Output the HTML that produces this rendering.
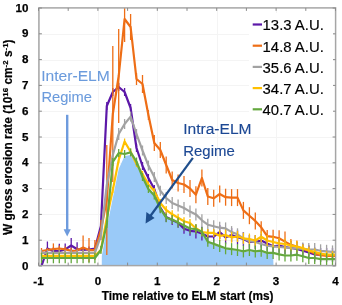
<!DOCTYPE html>
<html><head><meta charset="utf-8"><style>
html,body{margin:0;padding:0;background:#fff;}
svg{display:block;will-change:transform;filter:blur(0.3px);}
text{font-family:"Liberation Sans",sans-serif;}
.tl{font-size:11.6px;font-weight:bold;fill:#000;stroke:#000;stroke-width:0.25px;}
.at{font-size:12px;font-weight:bold;fill:#000;stroke:#000;stroke-width:0.2px;}
.lg{font-size:14.4px;fill:#000;stroke:#000;stroke-width:0.15px;}
.an1{font-size:15.5px;fill:#6B9BDC;stroke:#6B9BDC;stroke-width:0.1px;}
.an2{font-size:15.5px;fill:#1C4894;stroke:#1C4894;stroke-width:0.15px;}
</style></head><body>
<svg width="342" height="305" viewBox="0 0 342 305">
<defs><clipPath id="pc"><rect x="38.9" y="7.9" width="296.70000000000005" height="257.70000000000005"/></clipPath></defs>
<line x1="39.5" y1="7.9" x2="39.5" y2="265.6" stroke="#f4f4f4" stroke-width="1"/>
<line x1="98.5" y1="7.9" x2="98.5" y2="265.6" stroke="#f4f4f4" stroke-width="1"/>
<line x1="157.5" y1="7.9" x2="157.5" y2="265.6" stroke="#f4f4f4" stroke-width="1"/>
<line x1="217.5" y1="7.9" x2="217.5" y2="265.6" stroke="#f4f4f4" stroke-width="1"/>
<line x1="276.5" y1="7.9" x2="276.5" y2="265.6" stroke="#f4f4f4" stroke-width="1"/>
<line x1="38.9" y1="240.5" x2="335.6" y2="240.5" stroke="#f4f4f4" stroke-width="1"/>
<line x1="38.9" y1="214.5" x2="335.6" y2="214.5" stroke="#f4f4f4" stroke-width="1"/>
<line x1="38.9" y1="189.5" x2="335.6" y2="189.5" stroke="#f4f4f4" stroke-width="1"/>
<line x1="38.9" y1="163.5" x2="335.6" y2="163.5" stroke="#f4f4f4" stroke-width="1"/>
<line x1="38.9" y1="137.5" x2="335.6" y2="137.5" stroke="#f4f4f4" stroke-width="1"/>
<line x1="38.9" y1="111.5" x2="335.6" y2="111.5" stroke="#f4f4f4" stroke-width="1"/>
<line x1="38.9" y1="85.5" x2="335.6" y2="85.5" stroke="#f4f4f4" stroke-width="1"/>
<line x1="38.9" y1="60.5" x2="335.6" y2="60.5" stroke="#f4f4f4" stroke-width="1"/>
<line x1="38.9" y1="34.5" x2="335.6" y2="34.5" stroke="#f4f4f4" stroke-width="1"/>
<path d="M101.8,265.6 L101.8,256.0 L106.8,228.0 L112.8,198.0 L118.7,169.0 L124.6,156.0 L130.6,155.0 L136.5,164.0 L142.5,179.0 L148.4,190.0 L154.3,196.6 L160.3,209.7 L166.2,218.7 L172.2,220.6 L178.1,223.5 L184.0,226.5 L190.0,229.5 L195.9,230.2 L201.9,232.8 L207.8,242.7 L213.7,244.9 L219.7,247.1 L225.6,249.3 L231.6,250.1 L237.5,251.0 L243.4,252.4 L249.4,251.0 L255.3,252.4 L261.2,251.7 L267.2,253.9 L273.1,253.9 L273.5,265.6 Z" fill="#9ACAF8"/>
<line x1="41.5" y1="263.0" x2="41.5" y2="265.6" stroke="#5C18A8" stroke-width="1.3"/>
<line x1="47.4" y1="241.5" x2="47.4" y2="255.5" stroke="#5C18A8" stroke-width="1.3"/>
<line x1="53.4" y1="247.2" x2="53.4" y2="255.2" stroke="#5C18A8" stroke-width="1.3"/>
<line x1="59.3" y1="243.7" x2="59.3" y2="258.7" stroke="#5C18A8" stroke-width="1.3"/>
<line x1="65.2" y1="243.4" x2="65.2" y2="255.4" stroke="#5C18A8" stroke-width="1.3"/>
<line x1="71.2" y1="238.0" x2="71.2" y2="253.0" stroke="#5C18A8" stroke-width="1.3"/>
<line x1="77.1" y1="242.2" x2="77.1" y2="256.2" stroke="#5C18A8" stroke-width="1.3"/>
<line x1="83.1" y1="247.0" x2="83.1" y2="253.0" stroke="#5C18A8" stroke-width="1.3"/>
<line x1="89.0" y1="246.5" x2="89.0" y2="252.5" stroke="#5C18A8" stroke-width="1.3"/>
<line x1="94.9" y1="245.5" x2="94.9" y2="251.5" stroke="#5C18A8" stroke-width="1.3"/>
<line x1="100.9" y1="222.0" x2="100.9" y2="230.0" stroke="#5C18A8" stroke-width="1.3"/>
<line x1="106.8" y1="102.0" x2="106.8" y2="110.0" stroke="#5C18A8" stroke-width="1.3"/>
<line x1="112.8" y1="88.0" x2="112.8" y2="96.0" stroke="#5C18A8" stroke-width="1.3"/>
<line x1="118.7" y1="83.0" x2="118.7" y2="91.0" stroke="#5C18A8" stroke-width="1.3"/>
<line x1="124.6" y1="88.0" x2="124.6" y2="96.0" stroke="#5C18A8" stroke-width="1.3"/>
<line x1="130.6" y1="104.0" x2="130.6" y2="112.0" stroke="#5C18A8" stroke-width="1.3"/>
<line x1="136.5" y1="144.0" x2="136.5" y2="152.0" stroke="#5C18A8" stroke-width="1.3"/>
<line x1="142.5" y1="162.0" x2="142.5" y2="170.0" stroke="#5C18A8" stroke-width="1.3"/>
<line x1="148.4" y1="174.0" x2="148.4" y2="182.0" stroke="#5C18A8" stroke-width="1.3"/>
<line x1="154.3" y1="185.0" x2="154.3" y2="193.0" stroke="#5C18A8" stroke-width="1.3"/>
<line x1="160.3" y1="202.5" x2="160.3" y2="212.5" stroke="#5C18A8" stroke-width="1.3"/>
<line x1="166.2" y1="212.0" x2="166.2" y2="222.0" stroke="#5C18A8" stroke-width="1.3"/>
<line x1="172.2" y1="215.0" x2="172.2" y2="225.0" stroke="#5C18A8" stroke-width="1.3"/>
<line x1="178.1" y1="217.8" x2="178.1" y2="227.8" stroke="#5C18A8" stroke-width="1.3"/>
<line x1="184.0" y1="223.8" x2="184.0" y2="233.8" stroke="#5C18A8" stroke-width="1.3"/>
<line x1="190.0" y1="225.8" x2="190.0" y2="235.8" stroke="#5C18A8" stroke-width="1.3"/>
<line x1="195.9" y1="224.5" x2="195.9" y2="238.5" stroke="#5C18A8" stroke-width="1.3"/>
<line x1="201.9" y1="226.5" x2="201.9" y2="240.5" stroke="#5C18A8" stroke-width="1.3"/>
<line x1="207.8" y1="229.5" x2="207.8" y2="243.5" stroke="#5C18A8" stroke-width="1.3"/>
<line x1="213.7" y1="229.5" x2="213.7" y2="243.5" stroke="#5C18A8" stroke-width="1.3"/>
<line x1="219.7" y1="225.1" x2="219.7" y2="239.1" stroke="#5C18A8" stroke-width="1.3"/>
<line x1="225.6" y1="230.3" x2="225.6" y2="244.3" stroke="#5C18A8" stroke-width="1.3"/>
<line x1="231.6" y1="228.1" x2="231.6" y2="242.1" stroke="#5C18A8" stroke-width="1.3"/>
<line x1="237.5" y1="230.3" x2="237.5" y2="244.3" stroke="#5C18A8" stroke-width="1.3"/>
<line x1="243.4" y1="232.0" x2="243.4" y2="246.0" stroke="#5C18A8" stroke-width="1.3"/>
<line x1="249.4" y1="235.0" x2="249.4" y2="249.0" stroke="#5C18A8" stroke-width="1.3"/>
<line x1="255.3" y1="235.0" x2="255.3" y2="249.0" stroke="#5C18A8" stroke-width="1.3"/>
<line x1="261.2" y1="233.5" x2="261.2" y2="247.5" stroke="#5C18A8" stroke-width="1.3"/>
<line x1="267.2" y1="236.4" x2="267.2" y2="250.4" stroke="#5C18A8" stroke-width="1.3"/>
<line x1="273.1" y1="239.3" x2="273.1" y2="253.3" stroke="#5C18A8" stroke-width="1.3"/>
<line x1="279.1" y1="238.6" x2="279.1" y2="252.6" stroke="#5C18A8" stroke-width="1.3"/>
<line x1="285.0" y1="240.0" x2="285.0" y2="254.0" stroke="#5C18A8" stroke-width="1.3"/>
<line x1="290.9" y1="241.0" x2="290.9" y2="255.0" stroke="#5C18A8" stroke-width="1.3"/>
<line x1="296.9" y1="242.0" x2="296.9" y2="256.0" stroke="#5C18A8" stroke-width="1.3"/>
<line x1="302.8" y1="243.6" x2="302.8" y2="257.6" stroke="#5C18A8" stroke-width="1.3"/>
<line x1="308.8" y1="245.5" x2="308.8" y2="259.5" stroke="#5C18A8" stroke-width="1.3"/>
<line x1="314.7" y1="247.5" x2="314.7" y2="261.5" stroke="#5C18A8" stroke-width="1.3"/>
<line x1="320.6" y1="248.0" x2="320.6" y2="262.0" stroke="#5C18A8" stroke-width="1.3"/>
<line x1="326.6" y1="248.0" x2="326.6" y2="262.0" stroke="#5C18A8" stroke-width="1.3"/>
<line x1="332.5" y1="248.0" x2="332.5" y2="262.0" stroke="#5C18A8" stroke-width="1.3"/>
<polyline clip-path="url(#pc)" points="41.5,266.0 47.4,248.5 53.4,251.2 59.3,251.2 65.2,249.4 71.2,245.5 77.1,249.2 83.1,250.0 89.0,249.5 94.9,248.5 100.9,226.0 106.8,106.0 112.8,92.0 118.7,87.0 124.6,92.0 130.6,108.0 136.5,148.0 142.5,166.0 148.4,178.0 154.3,189.0 160.3,207.5 166.2,217.0 172.2,220.0 178.1,222.8 184.0,228.8 190.0,230.8 195.9,231.5 201.9,233.5 207.8,236.5 213.7,236.5 219.7,232.1 225.6,237.3 231.6,235.1 237.5,237.3 243.4,239.0 249.4,242.0 255.3,242.0 261.2,240.5 267.2,243.4 273.1,246.3 279.1,245.6 285.0,247.0 290.9,248.0 296.9,249.0 302.8,250.6 308.8,252.5 314.7,254.5 320.6,255.0 326.6,255.0 332.5,255.0 338.5,255.0" fill="none" stroke="#5C18A8" stroke-width="2.2" stroke-linejoin="round"/>
<line x1="41.5" y1="248.0" x2="41.5" y2="254.0" stroke="#EE6E16" stroke-width="1.3"/>
<line x1="47.4" y1="248.0" x2="47.4" y2="252.0" stroke="#EE6E16" stroke-width="1.3"/>
<line x1="53.4" y1="243.4" x2="53.4" y2="254.8" stroke="#EE6E16" stroke-width="1.3"/>
<line x1="59.3" y1="245.5" x2="59.3" y2="251.5" stroke="#EE6E16" stroke-width="1.3"/>
<line x1="65.2" y1="246.4" x2="65.2" y2="252.4" stroke="#EE6E16" stroke-width="1.3"/>
<line x1="71.2" y1="247.8" x2="71.2" y2="253.8" stroke="#EE6E16" stroke-width="1.3"/>
<line x1="77.1" y1="247.5" x2="77.1" y2="253.5" stroke="#EE6E16" stroke-width="1.3"/>
<line x1="83.1" y1="235.6" x2="83.1" y2="259.6" stroke="#EE6E16" stroke-width="1.3"/>
<line x1="89.0" y1="238.1" x2="89.0" y2="262.1" stroke="#EE6E16" stroke-width="1.3"/>
<line x1="94.9" y1="240.1" x2="94.9" y2="260.1" stroke="#EE6E16" stroke-width="1.3"/>
<line x1="100.9" y1="220.0" x2="100.9" y2="240.0" stroke="#EE6E16" stroke-width="1.3"/>
<line x1="106.8" y1="145.0" x2="106.8" y2="255.0" stroke="#EE6E16" stroke-width="1.3"/>
<line x1="112.8" y1="46.0" x2="112.8" y2="182.0" stroke="#EE6E16" stroke-width="1.3"/>
<line x1="118.7" y1="29.0" x2="118.7" y2="123.0" stroke="#EE6E16" stroke-width="1.3"/>
<line x1="124.6" y1="7.9" x2="124.6" y2="42.0" stroke="#EE6E16" stroke-width="1.3"/>
<line x1="130.6" y1="14.0" x2="130.6" y2="40.0" stroke="#EE6E16" stroke-width="1.3"/>
<line x1="136.5" y1="73.0" x2="136.5" y2="85.0" stroke="#EE6E16" stroke-width="1.3"/>
<line x1="142.5" y1="75.0" x2="142.5" y2="93.0" stroke="#EE6E16" stroke-width="1.3"/>
<line x1="148.4" y1="110.0" x2="148.4" y2="120.0" stroke="#EE6E16" stroke-width="1.3"/>
<line x1="154.3" y1="135.0" x2="154.3" y2="151.0" stroke="#EE6E16" stroke-width="1.3"/>
<line x1="160.3" y1="142.0" x2="160.3" y2="158.0" stroke="#EE6E16" stroke-width="1.3"/>
<line x1="166.2" y1="156.5" x2="166.2" y2="173.5" stroke="#EE6E16" stroke-width="1.3"/>
<line x1="172.2" y1="171.5" x2="172.2" y2="188.5" stroke="#EE6E16" stroke-width="1.3"/>
<line x1="178.1" y1="174.5" x2="178.1" y2="191.5" stroke="#EE6E16" stroke-width="1.3"/>
<line x1="184.0" y1="176.0" x2="184.0" y2="193.0" stroke="#EE6E16" stroke-width="1.3"/>
<line x1="190.0" y1="180.0" x2="190.0" y2="197.0" stroke="#EE6E16" stroke-width="1.3"/>
<line x1="195.9" y1="186.2" x2="195.9" y2="203.2" stroke="#EE6E16" stroke-width="1.3"/>
<line x1="201.9" y1="169.5" x2="201.9" y2="186.5" stroke="#EE6E16" stroke-width="1.3"/>
<line x1="207.8" y1="188.0" x2="207.8" y2="205.0" stroke="#EE6E16" stroke-width="1.3"/>
<line x1="213.7" y1="189.8" x2="213.7" y2="206.8" stroke="#EE6E16" stroke-width="1.3"/>
<line x1="219.7" y1="185.5" x2="219.7" y2="202.5" stroke="#EE6E16" stroke-width="1.3"/>
<line x1="225.6" y1="188.7" x2="225.6" y2="205.7" stroke="#EE6E16" stroke-width="1.3"/>
<line x1="231.6" y1="189.1" x2="231.6" y2="206.1" stroke="#EE6E16" stroke-width="1.3"/>
<line x1="237.5" y1="189.1" x2="237.5" y2="206.1" stroke="#EE6E16" stroke-width="1.3"/>
<line x1="243.4" y1="201.9" x2="243.4" y2="218.9" stroke="#EE6E16" stroke-width="1.3"/>
<line x1="249.4" y1="207.2" x2="249.4" y2="224.2" stroke="#EE6E16" stroke-width="1.3"/>
<line x1="255.3" y1="212.4" x2="255.3" y2="229.4" stroke="#EE6E16" stroke-width="1.3"/>
<line x1="261.2" y1="221.3" x2="261.2" y2="233.3" stroke="#EE6E16" stroke-width="1.3"/>
<line x1="267.2" y1="230.1" x2="267.2" y2="242.1" stroke="#EE6E16" stroke-width="1.3"/>
<line x1="273.1" y1="229.8" x2="273.1" y2="243.8" stroke="#EE6E16" stroke-width="1.3"/>
<line x1="279.1" y1="230.3" x2="279.1" y2="246.3" stroke="#EE6E16" stroke-width="1.3"/>
<line x1="285.0" y1="231.6" x2="285.0" y2="251.6" stroke="#EE6E16" stroke-width="1.3"/>
<line x1="290.9" y1="238.9" x2="290.9" y2="250.9" stroke="#EE6E16" stroke-width="1.3"/>
<line x1="296.9" y1="240.5" x2="296.9" y2="252.5" stroke="#EE6E16" stroke-width="1.3"/>
<line x1="302.8" y1="244.0" x2="302.8" y2="254.0" stroke="#EE6E16" stroke-width="1.3"/>
<line x1="308.8" y1="245.6" x2="308.8" y2="255.6" stroke="#EE6E16" stroke-width="1.3"/>
<line x1="314.7" y1="249.6" x2="314.7" y2="257.6" stroke="#EE6E16" stroke-width="1.3"/>
<line x1="320.6" y1="251.2" x2="320.6" y2="259.2" stroke="#EE6E16" stroke-width="1.3"/>
<line x1="326.6" y1="251.8" x2="326.6" y2="259.8" stroke="#EE6E16" stroke-width="1.3"/>
<line x1="332.5" y1="251.8" x2="332.5" y2="259.8" stroke="#EE6E16" stroke-width="1.3"/>
<polyline clip-path="url(#pc)" points="41.5,251.0 47.4,250.0 53.4,249.1 59.3,248.5 65.2,249.4 71.2,250.8 77.1,250.5 83.1,247.6 89.0,250.1 94.9,250.1 100.9,230.0 106.8,200.0 112.8,114.0 118.7,76.0 124.6,19.0 130.6,27.0 136.5,79.0 142.5,84.0 148.4,115.0 154.3,143.0 160.3,150.0 166.2,165.0 172.2,180.0 178.1,183.0 184.0,184.5 190.0,188.5 195.9,194.7 201.9,178.0 207.8,196.5 213.7,198.3 219.7,194.0 225.6,197.2 231.6,197.6 237.5,197.6 243.4,210.4 249.4,215.7 255.3,220.9 261.2,227.3 267.2,236.1 273.1,236.8 279.1,238.3 285.0,241.6 290.9,244.9 296.9,246.5 302.8,249.0 308.8,250.6 314.7,253.6 320.6,255.2 326.6,255.8 332.5,255.8 338.5,255.8" fill="none" stroke="#EE6E16" stroke-width="2.2" stroke-linejoin="round"/>
<line x1="41.5" y1="249.8" x2="41.5" y2="255.8" stroke="#A2A2A2" stroke-width="1.3"/>
<line x1="47.4" y1="249.8" x2="47.4" y2="255.8" stroke="#A2A2A2" stroke-width="1.3"/>
<line x1="53.4" y1="249.8" x2="53.4" y2="255.8" stroke="#A2A2A2" stroke-width="1.3"/>
<line x1="59.3" y1="249.8" x2="59.3" y2="255.8" stroke="#A2A2A2" stroke-width="1.3"/>
<line x1="65.2" y1="249.8" x2="65.2" y2="255.8" stroke="#A2A2A2" stroke-width="1.3"/>
<line x1="71.2" y1="249.8" x2="71.2" y2="255.8" stroke="#A2A2A2" stroke-width="1.3"/>
<line x1="77.1" y1="249.8" x2="77.1" y2="255.8" stroke="#A2A2A2" stroke-width="1.3"/>
<line x1="83.1" y1="249.8" x2="83.1" y2="255.8" stroke="#A2A2A2" stroke-width="1.3"/>
<line x1="89.0" y1="249.8" x2="89.0" y2="255.8" stroke="#A2A2A2" stroke-width="1.3"/>
<line x1="94.9" y1="249.8" x2="94.9" y2="255.8" stroke="#A2A2A2" stroke-width="1.3"/>
<line x1="100.9" y1="232.0" x2="100.9" y2="240.0" stroke="#A2A2A2" stroke-width="1.3"/>
<line x1="106.8" y1="180.0" x2="106.8" y2="190.0" stroke="#A2A2A2" stroke-width="1.3"/>
<line x1="112.8" y1="150.0" x2="112.8" y2="160.0" stroke="#A2A2A2" stroke-width="1.3"/>
<line x1="118.7" y1="128.0" x2="118.7" y2="140.0" stroke="#A2A2A2" stroke-width="1.3"/>
<line x1="124.6" y1="119.0" x2="124.6" y2="129.0" stroke="#A2A2A2" stroke-width="1.3"/>
<line x1="130.6" y1="111.6" x2="130.6" y2="121.6" stroke="#A2A2A2" stroke-width="1.3"/>
<line x1="136.5" y1="129.0" x2="136.5" y2="139.0" stroke="#A2A2A2" stroke-width="1.3"/>
<line x1="142.5" y1="145.5" x2="142.5" y2="155.5" stroke="#A2A2A2" stroke-width="1.3"/>
<line x1="148.4" y1="160.6" x2="148.4" y2="170.6" stroke="#A2A2A2" stroke-width="1.3"/>
<line x1="154.3" y1="172.0" x2="154.3" y2="182.0" stroke="#A2A2A2" stroke-width="1.3"/>
<line x1="160.3" y1="185.7" x2="160.3" y2="195.7" stroke="#A2A2A2" stroke-width="1.3"/>
<line x1="166.2" y1="192.0" x2="166.2" y2="204.0" stroke="#A2A2A2" stroke-width="1.3"/>
<line x1="172.2" y1="197.0" x2="172.2" y2="209.0" stroke="#A2A2A2" stroke-width="1.3"/>
<line x1="178.1" y1="199.4" x2="178.1" y2="211.4" stroke="#A2A2A2" stroke-width="1.3"/>
<line x1="184.0" y1="202.0" x2="184.0" y2="214.0" stroke="#A2A2A2" stroke-width="1.3"/>
<line x1="190.0" y1="205.6" x2="190.0" y2="217.6" stroke="#A2A2A2" stroke-width="1.3"/>
<line x1="195.9" y1="208.4" x2="195.9" y2="220.4" stroke="#A2A2A2" stroke-width="1.3"/>
<line x1="201.9" y1="214.3" x2="201.9" y2="226.3" stroke="#A2A2A2" stroke-width="1.3"/>
<line x1="207.8" y1="218.7" x2="207.8" y2="230.7" stroke="#A2A2A2" stroke-width="1.3"/>
<line x1="213.7" y1="220.2" x2="213.7" y2="232.2" stroke="#A2A2A2" stroke-width="1.3"/>
<line x1="219.7" y1="221.7" x2="219.7" y2="233.7" stroke="#A2A2A2" stroke-width="1.3"/>
<line x1="225.6" y1="222.4" x2="225.6" y2="234.4" stroke="#A2A2A2" stroke-width="1.3"/>
<line x1="231.6" y1="226.1" x2="231.6" y2="238.1" stroke="#A2A2A2" stroke-width="1.3"/>
<line x1="237.5" y1="228.3" x2="237.5" y2="240.3" stroke="#A2A2A2" stroke-width="1.3"/>
<line x1="243.4" y1="232.3" x2="243.4" y2="244.3" stroke="#A2A2A2" stroke-width="1.3"/>
<line x1="249.4" y1="235.2" x2="249.4" y2="247.2" stroke="#A2A2A2" stroke-width="1.3"/>
<line x1="255.3" y1="236.0" x2="255.3" y2="248.0" stroke="#A2A2A2" stroke-width="1.3"/>
<line x1="261.2" y1="238.0" x2="261.2" y2="250.0" stroke="#A2A2A2" stroke-width="1.3"/>
<line x1="267.2" y1="239.6" x2="267.2" y2="251.6" stroke="#A2A2A2" stroke-width="1.3"/>
<line x1="273.1" y1="240.3" x2="273.1" y2="252.3" stroke="#A2A2A2" stroke-width="1.3"/>
<line x1="279.1" y1="241.0" x2="279.1" y2="253.0" stroke="#A2A2A2" stroke-width="1.3"/>
<line x1="285.0" y1="241.5" x2="285.0" y2="253.5" stroke="#A2A2A2" stroke-width="1.3"/>
<line x1="290.9" y1="242.1" x2="290.9" y2="254.1" stroke="#A2A2A2" stroke-width="1.3"/>
<line x1="296.9" y1="242.5" x2="296.9" y2="254.5" stroke="#A2A2A2" stroke-width="1.3"/>
<line x1="302.8" y1="242.5" x2="302.8" y2="255.5" stroke="#A2A2A2" stroke-width="1.3"/>
<line x1="308.8" y1="242.9" x2="308.8" y2="255.9" stroke="#A2A2A2" stroke-width="1.3"/>
<line x1="314.7" y1="243.0" x2="314.7" y2="256.0" stroke="#A2A2A2" stroke-width="1.3"/>
<line x1="320.6" y1="244.3" x2="320.6" y2="257.3" stroke="#A2A2A2" stroke-width="1.3"/>
<line x1="326.6" y1="244.8" x2="326.6" y2="257.8" stroke="#A2A2A2" stroke-width="1.3"/>
<line x1="332.5" y1="245.4" x2="332.5" y2="258.4" stroke="#A2A2A2" stroke-width="1.3"/>
<polyline clip-path="url(#pc)" points="41.5,252.8 47.4,252.8 53.4,252.8 59.3,252.8 65.2,252.8 71.2,252.8 77.1,252.8 83.1,252.8 89.0,252.8 94.9,252.8 100.9,236.0 106.8,185.0 112.8,155.0 118.7,134.0 124.6,124.0 130.6,116.6 136.5,134.0 142.5,150.5 148.4,165.6 154.3,177.0 160.3,190.7 166.2,198.0 172.2,203.0 178.1,205.4 184.0,208.0 190.0,211.6 195.9,214.4 201.9,220.3 207.8,224.7 213.7,226.2 219.7,227.7 225.6,228.4 231.6,232.1 237.5,234.3 243.4,238.3 249.4,241.2 255.3,242.0 261.2,244.0 267.2,245.6 273.1,246.3 279.1,247.0 285.0,247.5 290.9,248.1 296.9,248.5 302.8,249.0 308.8,249.4 314.7,249.5 320.6,250.8 326.6,251.3 332.5,251.9 338.5,251.9" fill="none" stroke="#A2A2A2" stroke-width="2.2" stroke-linejoin="round"/>
<line x1="41.5" y1="252.8" x2="41.5" y2="258.8" stroke="#FFC000" stroke-width="1.3"/>
<line x1="47.4" y1="252.8" x2="47.4" y2="258.8" stroke="#FFC000" stroke-width="1.3"/>
<line x1="53.4" y1="252.8" x2="53.4" y2="258.8" stroke="#FFC000" stroke-width="1.3"/>
<line x1="59.3" y1="252.8" x2="59.3" y2="258.8" stroke="#FFC000" stroke-width="1.3"/>
<line x1="65.2" y1="252.8" x2="65.2" y2="258.8" stroke="#FFC000" stroke-width="1.3"/>
<line x1="71.2" y1="252.8" x2="71.2" y2="258.8" stroke="#FFC000" stroke-width="1.3"/>
<line x1="77.1" y1="252.8" x2="77.1" y2="258.8" stroke="#FFC000" stroke-width="1.3"/>
<line x1="83.1" y1="252.8" x2="83.1" y2="258.8" stroke="#FFC000" stroke-width="1.3"/>
<line x1="89.0" y1="252.8" x2="89.0" y2="258.8" stroke="#FFC000" stroke-width="1.3"/>
<line x1="94.9" y1="252.8" x2="94.9" y2="258.8" stroke="#FFC000" stroke-width="1.3"/>
<line x1="100.9" y1="247.0" x2="100.9" y2="253.0" stroke="#FFC000" stroke-width="1.3"/>
<line x1="106.8" y1="215.0" x2="106.8" y2="221.0" stroke="#FFC000" stroke-width="1.3"/>
<line x1="112.8" y1="187.0" x2="112.8" y2="193.0" stroke="#FFC000" stroke-width="1.3"/>
<line x1="118.7" y1="157.0" x2="118.7" y2="163.0" stroke="#FFC000" stroke-width="1.3"/>
<line x1="124.6" y1="138.5" x2="124.6" y2="144.5" stroke="#FFC000" stroke-width="1.3"/>
<line x1="130.6" y1="148.7" x2="130.6" y2="154.7" stroke="#FFC000" stroke-width="1.3"/>
<line x1="136.5" y1="161.0" x2="136.5" y2="167.0" stroke="#FFC000" stroke-width="1.3"/>
<line x1="142.5" y1="171.0" x2="142.5" y2="177.0" stroke="#FFC000" stroke-width="1.3"/>
<line x1="148.4" y1="181.4" x2="148.4" y2="187.4" stroke="#FFC000" stroke-width="1.3"/>
<line x1="154.3" y1="188.0" x2="154.3" y2="194.0" stroke="#FFC000" stroke-width="1.3"/>
<line x1="160.3" y1="199.0" x2="160.3" y2="207.0" stroke="#FFC000" stroke-width="1.3"/>
<line x1="166.2" y1="206.0" x2="166.2" y2="214.0" stroke="#FFC000" stroke-width="1.3"/>
<line x1="172.2" y1="210.3" x2="172.2" y2="218.3" stroke="#FFC000" stroke-width="1.3"/>
<line x1="178.1" y1="213.8" x2="178.1" y2="221.8" stroke="#FFC000" stroke-width="1.3"/>
<line x1="184.0" y1="217.3" x2="184.0" y2="225.3" stroke="#FFC000" stroke-width="1.3"/>
<line x1="190.0" y1="219.0" x2="190.0" y2="227.0" stroke="#FFC000" stroke-width="1.3"/>
<line x1="195.9" y1="224.3" x2="195.9" y2="232.3" stroke="#FFC000" stroke-width="1.3"/>
<line x1="201.9" y1="228.0" x2="201.9" y2="236.0" stroke="#FFC000" stroke-width="1.3"/>
<line x1="207.8" y1="228.9" x2="207.8" y2="236.9" stroke="#FFC000" stroke-width="1.3"/>
<line x1="213.7" y1="228.9" x2="213.7" y2="236.9" stroke="#FFC000" stroke-width="1.3"/>
<line x1="219.7" y1="230.3" x2="219.7" y2="241.3" stroke="#FFC000" stroke-width="1.3"/>
<line x1="225.6" y1="229.6" x2="225.6" y2="240.6" stroke="#FFC000" stroke-width="1.3"/>
<line x1="231.6" y1="231.8" x2="231.6" y2="242.8" stroke="#FFC000" stroke-width="1.3"/>
<line x1="237.5" y1="231.0" x2="237.5" y2="242.0" stroke="#FFC000" stroke-width="1.3"/>
<line x1="243.4" y1="232.8" x2="243.4" y2="243.8" stroke="#FFC000" stroke-width="1.3"/>
<line x1="249.4" y1="233.5" x2="249.4" y2="244.5" stroke="#FFC000" stroke-width="1.3"/>
<line x1="255.3" y1="235.0" x2="255.3" y2="246.0" stroke="#FFC000" stroke-width="1.3"/>
<line x1="261.2" y1="231.3" x2="261.2" y2="242.3" stroke="#FFC000" stroke-width="1.3"/>
<line x1="267.2" y1="235.0" x2="267.2" y2="246.0" stroke="#FFC000" stroke-width="1.3"/>
<line x1="273.1" y1="236.5" x2="273.1" y2="247.5" stroke="#FFC000" stroke-width="1.3"/>
<line x1="279.1" y1="237.9" x2="279.1" y2="248.9" stroke="#FFC000" stroke-width="1.3"/>
<line x1="285.0" y1="238.5" x2="285.0" y2="249.5" stroke="#FFC000" stroke-width="1.3"/>
<line x1="290.9" y1="240.2" x2="290.9" y2="251.2" stroke="#FFC000" stroke-width="1.3"/>
<line x1="296.9" y1="241.0" x2="296.9" y2="252.0" stroke="#FFC000" stroke-width="1.3"/>
<line x1="302.8" y1="244.6" x2="302.8" y2="251.6" stroke="#FFC000" stroke-width="1.3"/>
<line x1="308.8" y1="247.1" x2="308.8" y2="254.1" stroke="#FFC000" stroke-width="1.3"/>
<line x1="314.7" y1="248.4" x2="314.7" y2="255.4" stroke="#FFC000" stroke-width="1.3"/>
<line x1="320.6" y1="250.1" x2="320.6" y2="257.1" stroke="#FFC000" stroke-width="1.3"/>
<line x1="326.6" y1="251.2" x2="326.6" y2="258.2" stroke="#FFC000" stroke-width="1.3"/>
<line x1="332.5" y1="251.2" x2="332.5" y2="258.2" stroke="#FFC000" stroke-width="1.3"/>
<polyline clip-path="url(#pc)" points="41.5,255.8 47.4,255.8 53.4,255.8 59.3,255.8 65.2,255.8 71.2,255.8 77.1,255.8 83.1,255.8 89.0,255.8 94.9,255.8 100.9,250.0 106.8,218.0 112.8,190.0 118.7,160.0 124.6,141.5 130.6,151.7 136.5,164.0 142.5,174.0 148.4,184.4 154.3,191.0 160.3,203.0 166.2,210.0 172.2,214.3 178.1,217.8 184.0,221.3 190.0,223.0 195.9,228.3 201.9,232.0 207.8,232.9 213.7,232.9 219.7,235.8 225.6,235.1 231.6,237.3 237.5,236.5 243.4,238.3 249.4,239.0 255.3,240.5 261.2,236.8 267.2,240.5 273.1,242.0 279.1,243.4 285.0,244.0 290.9,245.7 296.9,246.5 302.8,248.1 308.8,250.6 314.7,251.9 320.6,253.6 326.6,254.7 332.5,254.7 338.5,254.7" fill="none" stroke="#FFC000" stroke-width="2.2" stroke-linejoin="round"/>
<line x1="41.5" y1="252.7" x2="41.5" y2="263.3" stroke="#64A83E" stroke-width="1.3"/>
<line x1="47.4" y1="252.7" x2="47.4" y2="263.3" stroke="#64A83E" stroke-width="1.3"/>
<line x1="53.4" y1="252.7" x2="53.4" y2="263.3" stroke="#64A83E" stroke-width="1.3"/>
<line x1="59.3" y1="252.7" x2="59.3" y2="263.3" stroke="#64A83E" stroke-width="1.3"/>
<line x1="65.2" y1="252.7" x2="65.2" y2="263.3" stroke="#64A83E" stroke-width="1.3"/>
<line x1="71.2" y1="252.7" x2="71.2" y2="263.3" stroke="#64A83E" stroke-width="1.3"/>
<line x1="77.1" y1="252.7" x2="77.1" y2="263.3" stroke="#64A83E" stroke-width="1.3"/>
<line x1="83.1" y1="252.7" x2="83.1" y2="263.3" stroke="#64A83E" stroke-width="1.3"/>
<line x1="89.0" y1="252.7" x2="89.0" y2="263.3" stroke="#64A83E" stroke-width="1.3"/>
<line x1="94.9" y1="252.7" x2="94.9" y2="263.3" stroke="#64A83E" stroke-width="1.3"/>
<line x1="100.9" y1="246.0" x2="100.9" y2="254.0" stroke="#64A83E" stroke-width="1.3"/>
<line x1="106.8" y1="220.0" x2="106.8" y2="228.0" stroke="#64A83E" stroke-width="1.3"/>
<line x1="112.8" y1="158.0" x2="112.8" y2="166.0" stroke="#64A83E" stroke-width="1.3"/>
<line x1="118.7" y1="149.0" x2="118.7" y2="157.0" stroke="#64A83E" stroke-width="1.3"/>
<line x1="124.6" y1="150.0" x2="124.6" y2="158.0" stroke="#64A83E" stroke-width="1.3"/>
<line x1="130.6" y1="148.4" x2="130.6" y2="156.4" stroke="#64A83E" stroke-width="1.3"/>
<line x1="136.5" y1="157.5" x2="136.5" y2="165.5" stroke="#64A83E" stroke-width="1.3"/>
<line x1="142.5" y1="173.0" x2="142.5" y2="181.0" stroke="#64A83E" stroke-width="1.3"/>
<line x1="148.4" y1="185.0" x2="148.4" y2="193.0" stroke="#64A83E" stroke-width="1.3"/>
<line x1="154.3" y1="191.6" x2="154.3" y2="199.6" stroke="#64A83E" stroke-width="1.3"/>
<line x1="160.3" y1="204.2" x2="160.3" y2="213.2" stroke="#64A83E" stroke-width="1.3"/>
<line x1="166.2" y1="213.2" x2="166.2" y2="222.2" stroke="#64A83E" stroke-width="1.3"/>
<line x1="172.2" y1="215.1" x2="172.2" y2="224.1" stroke="#64A83E" stroke-width="1.3"/>
<line x1="178.1" y1="217.5" x2="178.1" y2="227.5" stroke="#64A83E" stroke-width="1.3"/>
<line x1="184.0" y1="220.5" x2="184.0" y2="230.5" stroke="#64A83E" stroke-width="1.3"/>
<line x1="190.0" y1="223.5" x2="190.0" y2="233.5" stroke="#64A83E" stroke-width="1.3"/>
<line x1="195.9" y1="224.2" x2="195.9" y2="234.2" stroke="#64A83E" stroke-width="1.3"/>
<line x1="201.9" y1="226.8" x2="201.9" y2="236.8" stroke="#64A83E" stroke-width="1.3"/>
<line x1="207.8" y1="236.7" x2="207.8" y2="246.7" stroke="#64A83E" stroke-width="1.3"/>
<line x1="213.7" y1="238.9" x2="213.7" y2="248.9" stroke="#64A83E" stroke-width="1.3"/>
<line x1="219.7" y1="240.1" x2="219.7" y2="252.1" stroke="#64A83E" stroke-width="1.3"/>
<line x1="225.6" y1="242.3" x2="225.6" y2="254.3" stroke="#64A83E" stroke-width="1.3"/>
<line x1="231.6" y1="243.1" x2="231.6" y2="255.1" stroke="#64A83E" stroke-width="1.3"/>
<line x1="237.5" y1="244.0" x2="237.5" y2="256.0" stroke="#64A83E" stroke-width="1.3"/>
<line x1="243.4" y1="245.4" x2="243.4" y2="257.4" stroke="#64A83E" stroke-width="1.3"/>
<line x1="249.4" y1="244.0" x2="249.4" y2="256.0" stroke="#64A83E" stroke-width="1.3"/>
<line x1="255.3" y1="245.4" x2="255.3" y2="257.4" stroke="#64A83E" stroke-width="1.3"/>
<line x1="261.2" y1="244.7" x2="261.2" y2="256.7" stroke="#64A83E" stroke-width="1.3"/>
<line x1="267.2" y1="246.9" x2="267.2" y2="258.9" stroke="#64A83E" stroke-width="1.3"/>
<line x1="273.1" y1="246.9" x2="273.1" y2="258.9" stroke="#64A83E" stroke-width="1.3"/>
<line x1="279.1" y1="248.4" x2="279.1" y2="260.4" stroke="#64A83E" stroke-width="1.3"/>
<line x1="285.0" y1="249.5" x2="285.0" y2="261.5" stroke="#64A83E" stroke-width="1.3"/>
<line x1="290.9" y1="249.5" x2="290.9" y2="261.5" stroke="#64A83E" stroke-width="1.3"/>
<line x1="296.9" y1="248.7" x2="296.9" y2="260.7" stroke="#64A83E" stroke-width="1.3"/>
<line x1="302.8" y1="250.3" x2="302.8" y2="262.3" stroke="#64A83E" stroke-width="1.3"/>
<line x1="308.8" y1="252.0" x2="308.8" y2="264.0" stroke="#64A83E" stroke-width="1.3"/>
<line x1="314.7" y1="252.0" x2="314.7" y2="264.0" stroke="#64A83E" stroke-width="1.3"/>
<line x1="320.6" y1="253.1" x2="320.6" y2="265.1" stroke="#64A83E" stroke-width="1.3"/>
<line x1="326.6" y1="253.1" x2="326.6" y2="265.1" stroke="#64A83E" stroke-width="1.3"/>
<line x1="332.5" y1="253.1" x2="332.5" y2="265.1" stroke="#64A83E" stroke-width="1.3"/>
<polyline clip-path="url(#pc)" points="41.5,258.0 47.4,258.0 53.4,258.0 59.3,258.0 65.2,258.0 71.2,258.0 77.1,258.0 83.1,258.0 89.0,258.0 94.9,258.0 100.9,250.0 106.8,224.0 112.8,162.0 118.7,153.0 124.6,154.0 130.6,152.4 136.5,161.5 142.5,177.0 148.4,189.0 154.3,195.6 160.3,208.7 166.2,217.7 172.2,219.6 178.1,222.5 184.0,225.5 190.0,228.5 195.9,229.2 201.9,231.8 207.8,241.7 213.7,243.9 219.7,246.1 225.6,248.3 231.6,249.1 237.5,250.0 243.4,251.4 249.4,250.0 255.3,251.4 261.2,250.7 267.2,252.9 273.1,252.9 279.1,254.4 285.0,255.5 290.9,255.5 296.9,254.7 302.8,256.3 308.8,258.0 314.7,258.0 320.6,259.1 326.6,259.1 332.5,259.1 338.5,259.1" fill="none" stroke="#64A83E" stroke-width="2.2" stroke-linejoin="round"/>
<rect x="38.9" y="7.9" width="296.70000000000005" height="257.70000000000005" fill="none" stroke="#a6a6a6" stroke-width="1.5"/>
<line x1="38.5" y1="7.9" x2="38.5" y2="10.9" stroke="#8a8a8a" stroke-width="1"/>
<line x1="38.5" y1="265.6" x2="38.5" y2="262.6" stroke="#8a8a8a" stroke-width="1"/>
<line x1="68.2" y1="7.9" x2="68.2" y2="10.9" stroke="#8a8a8a" stroke-width="1"/>
<line x1="68.2" y1="265.6" x2="68.2" y2="262.6" stroke="#8a8a8a" stroke-width="1"/>
<line x1="97.9" y1="7.9" x2="97.9" y2="10.9" stroke="#8a8a8a" stroke-width="1"/>
<line x1="97.9" y1="265.6" x2="97.9" y2="262.6" stroke="#8a8a8a" stroke-width="1"/>
<line x1="127.6" y1="7.9" x2="127.6" y2="10.9" stroke="#8a8a8a" stroke-width="1"/>
<line x1="127.6" y1="265.6" x2="127.6" y2="262.6" stroke="#8a8a8a" stroke-width="1"/>
<line x1="157.3" y1="7.9" x2="157.3" y2="10.9" stroke="#8a8a8a" stroke-width="1"/>
<line x1="157.3" y1="265.6" x2="157.3" y2="262.6" stroke="#8a8a8a" stroke-width="1"/>
<line x1="187.0" y1="7.9" x2="187.0" y2="10.9" stroke="#8a8a8a" stroke-width="1"/>
<line x1="187.0" y1="265.6" x2="187.0" y2="262.6" stroke="#8a8a8a" stroke-width="1"/>
<line x1="216.7" y1="7.9" x2="216.7" y2="10.9" stroke="#8a8a8a" stroke-width="1"/>
<line x1="216.7" y1="265.6" x2="216.7" y2="262.6" stroke="#8a8a8a" stroke-width="1"/>
<line x1="246.4" y1="7.9" x2="246.4" y2="10.9" stroke="#8a8a8a" stroke-width="1"/>
<line x1="246.4" y1="265.6" x2="246.4" y2="262.6" stroke="#8a8a8a" stroke-width="1"/>
<line x1="276.1" y1="7.9" x2="276.1" y2="10.9" stroke="#8a8a8a" stroke-width="1"/>
<line x1="276.1" y1="265.6" x2="276.1" y2="262.6" stroke="#8a8a8a" stroke-width="1"/>
<line x1="305.8" y1="7.9" x2="305.8" y2="10.9" stroke="#8a8a8a" stroke-width="1"/>
<line x1="305.8" y1="265.6" x2="305.8" y2="262.6" stroke="#8a8a8a" stroke-width="1"/>
<line x1="335.5" y1="7.9" x2="335.5" y2="10.9" stroke="#8a8a8a" stroke-width="1"/>
<line x1="335.5" y1="265.6" x2="335.5" y2="262.6" stroke="#8a8a8a" stroke-width="1"/>
<line x1="38.9" y1="266.0" x2="41.9" y2="266.0" stroke="#8a8a8a" stroke-width="1"/>
<line x1="335.6" y1="266.0" x2="332.6" y2="266.0" stroke="#8a8a8a" stroke-width="1"/>
<line x1="38.9" y1="240.2" x2="41.9" y2="240.2" stroke="#8a8a8a" stroke-width="1"/>
<line x1="335.6" y1="240.2" x2="332.6" y2="240.2" stroke="#8a8a8a" stroke-width="1"/>
<line x1="38.9" y1="214.4" x2="41.9" y2="214.4" stroke="#8a8a8a" stroke-width="1"/>
<line x1="335.6" y1="214.4" x2="332.6" y2="214.4" stroke="#8a8a8a" stroke-width="1"/>
<line x1="38.9" y1="188.6" x2="41.9" y2="188.6" stroke="#8a8a8a" stroke-width="1"/>
<line x1="335.6" y1="188.6" x2="332.6" y2="188.6" stroke="#8a8a8a" stroke-width="1"/>
<line x1="38.9" y1="162.8" x2="41.9" y2="162.8" stroke="#8a8a8a" stroke-width="1"/>
<line x1="335.6" y1="162.8" x2="332.6" y2="162.8" stroke="#8a8a8a" stroke-width="1"/>
<line x1="38.9" y1="137.0" x2="41.9" y2="137.0" stroke="#8a8a8a" stroke-width="1"/>
<line x1="335.6" y1="137.0" x2="332.6" y2="137.0" stroke="#8a8a8a" stroke-width="1"/>
<line x1="38.9" y1="111.2" x2="41.9" y2="111.2" stroke="#8a8a8a" stroke-width="1"/>
<line x1="335.6" y1="111.2" x2="332.6" y2="111.2" stroke="#8a8a8a" stroke-width="1"/>
<line x1="38.9" y1="85.4" x2="41.9" y2="85.4" stroke="#8a8a8a" stroke-width="1"/>
<line x1="335.6" y1="85.4" x2="332.6" y2="85.4" stroke="#8a8a8a" stroke-width="1"/>
<line x1="38.9" y1="59.6" x2="41.9" y2="59.6" stroke="#8a8a8a" stroke-width="1"/>
<line x1="335.6" y1="59.6" x2="332.6" y2="59.6" stroke="#8a8a8a" stroke-width="1"/>
<line x1="38.9" y1="33.8" x2="41.9" y2="33.8" stroke="#8a8a8a" stroke-width="1"/>
<line x1="335.6" y1="33.8" x2="332.6" y2="33.8" stroke="#8a8a8a" stroke-width="1"/>
<line x1="38.9" y1="8.0" x2="41.9" y2="8.0" stroke="#8a8a8a" stroke-width="1"/>
<line x1="335.6" y1="8.0" x2="332.6" y2="8.0" stroke="#8a8a8a" stroke-width="1"/>
<text x="28.4" y="269.6" text-anchor="end" class="tl">0</text>
<text x="28.4" y="243.8" text-anchor="end" class="tl">1</text>
<text x="28.4" y="218.0" text-anchor="end" class="tl">2</text>
<text x="28.4" y="192.2" text-anchor="end" class="tl">3</text>
<text x="28.4" y="166.4" text-anchor="end" class="tl">4</text>
<text x="28.4" y="140.6" text-anchor="end" class="tl">5</text>
<text x="28.4" y="114.8" text-anchor="end" class="tl">6</text>
<text x="28.4" y="89.0" text-anchor="end" class="tl">7</text>
<text x="28.4" y="63.2" text-anchor="end" class="tl">8</text>
<text x="28.4" y="37.4" text-anchor="end" class="tl">9</text>
<text x="28.4" y="11.6" text-anchor="end" class="tl">10</text>
<text x="38.5" y="284.6" text-anchor="middle" class="tl">-1</text>
<text x="97.9" y="284.6" text-anchor="middle" class="tl">0</text>
<text x="157.3" y="284.6" text-anchor="middle" class="tl">1</text>
<text x="216.7" y="284.6" text-anchor="middle" class="tl">2</text>
<text x="276.1" y="284.6" text-anchor="middle" class="tl">3</text>
<text x="335.5" y="284.6" text-anchor="middle" class="tl">4</text>
<text x="101.7" y="299.6" class="at" textLength="171.8" lengthAdjust="spacingAndGlyphs">Time relative to ELM start (ms)</text>
<text transform="translate(12.3,235.1) rotate(-90)" class="at" textLength="195.6" lengthAdjust="spacingAndGlyphs">W gross erosion rate (10<tspan dy="-4" font-size="8">16</tspan><tspan dy="4"> cm</tspan><tspan dy="-4" font-size="8">-2</tspan><tspan dy="4"> s</tspan><tspan dy="-4" font-size="8">-1</tspan><tspan dy="4">)</tspan></text>
<rect x="249" y="13" width="84" height="107" fill="#fff"/>
<line x1="252.7" y1="24.5" x2="262" y2="24.5" stroke="#5C18A8" stroke-width="2.2"/>
<text x="262.6" y="30.3" class="lg" textLength="61.2" lengthAdjust="spacingAndGlyphs">13.3 A.U.</text>
<line x1="252.7" y1="45.7" x2="262" y2="45.7" stroke="#EE6E16" stroke-width="2.2"/>
<text x="262.6" y="51.5" class="lg" textLength="61.2" lengthAdjust="spacingAndGlyphs">14.8 A.U.</text>
<line x1="252.7" y1="66.9" x2="262" y2="66.9" stroke="#A2A2A2" stroke-width="2.2"/>
<text x="262.6" y="72.7" class="lg" textLength="61.2" lengthAdjust="spacingAndGlyphs">35.6 A.U.</text>
<line x1="252.7" y1="88.1" x2="262" y2="88.1" stroke="#FFC000" stroke-width="2.2"/>
<text x="262.6" y="93.9" class="lg" textLength="61.2" lengthAdjust="spacingAndGlyphs">34.7 A.U.</text>
<line x1="252.7" y1="109.3" x2="262" y2="109.3" stroke="#64A83E" stroke-width="2.2"/>
<text x="262.6" y="115.1" class="lg" textLength="61.2" lengthAdjust="spacingAndGlyphs">40.7 A.U.</text>
<text x="41.2" y="80.7" class="an1" textLength="68.6" lengthAdjust="spacingAndGlyphs">Inter-ELM</text>
<text x="41.4" y="101.6" class="an1" textLength="50.6" lengthAdjust="spacingAndGlyphs">Regime</text>
<line x1="67.2" y1="114.8" x2="67.2" y2="231" stroke="#6E9BDD" stroke-width="2.4"/>
<polygon points="63.6,229.3 70.8,229.3 67.2,236.4" fill="#6E9BDD"/>
<text x="183.2" y="134.2" class="an2" textLength="68.4" lengthAdjust="spacingAndGlyphs">Intra-ELM</text>
<text x="183.3" y="155.7" class="an2" textLength="51.4" lengthAdjust="spacingAndGlyphs">Regime</text>
<line x1="192.9" y1="157.9" x2="150" y2="216.5" stroke="#1F4E8C" stroke-width="2.2"/>
<polygon points="145.6,223.4 146.4,212.0 154.6,218.0" fill="#1F4E8C"/>
</svg>
</body></html>
